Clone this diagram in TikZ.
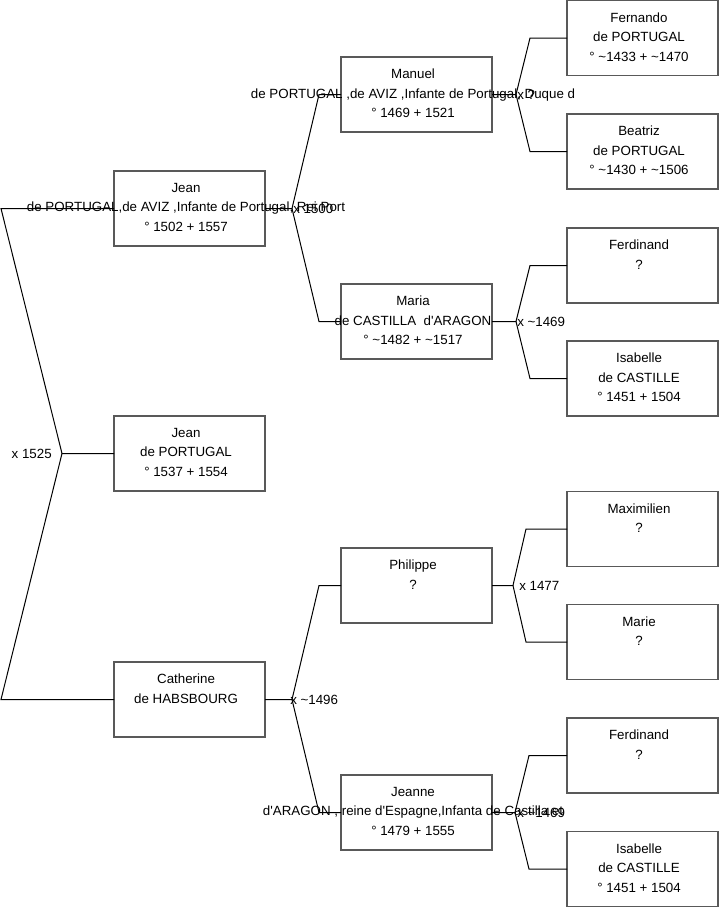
\documentclass[tikz,border=0pt]{standalone}
\usepackage{fontspec}
\setmainfont{Liberation Sans}[Ligatures=TeXOff]
\usepackage{tikz}

\begin{document}
\begin{tikzpicture}[
x=0.75pt, y=-0.75pt,
person/.style={draw=black!65, line width=1pt, minimum width=113.25pt, minimum height=56.25pt, inner sep=0pt, outer sep=0pt},
who/.style={align=center, inner sep=0pt, xshift=-2.6pt, yshift=0.8pt, font=\fontsize{10}{14.6}\selectfont},
union/.style={anchor=west, inner sep=0pt, font=\fontsize{10}{12}\selectfont},
link/.style={line width=0.75pt} ]

\useasboundingbox (0,0) rectangle (719,908);

% generation 1
\node[person] (jean) at (189.5,208.5) {};
\node[person] (jeanfils) at (189.5,453.5) {};
\node[person] (catherine) at (189.5,699.5) {};

% generation 2
\node[person] (manuel) at (416.5,94.5) {};
\node[person] (maria) at (416.5,321.5) {};
\node[person] (philippe) at (416.5,585.5) {};
\node[person] (jeanne) at (416.5,812.5) {};

% generation 3
\node[person] (fernando) at (642.5,38) {};
\node[person] (beatriz) at (642.5,151.5) {};
\node[person] (ferdinandA) at (642.5,265.5) {};
\node[person] (isabelleA) at (642.5,378.5) {};
\node[person] (maximilien) at (642.5,529) {};
\node[person] (marie) at (642.5,642) {};
\node[person] (ferdinandB) at (642.5,755.5) {};
\node[person] (isabelleB) at (642.5,869) {};

% forks
\coordinate (fa) at (62,453.5);
\coordinate (fb) at (292,208.5);
\coordinate (fc) at (516,94.5);
\coordinate (fd) at (516,321.5);
\coordinate (fe) at (292,699.5);
\coordinate (ff) at (513,585.5);
\coordinate (fg) at (515,812.5);

\draw[link] (jean.west) -- ++(-113,0) -- (fa) -- (jeanfils.west);
\draw[link] (catherine.west) -- ++(-113,0) -- (fa);

\draw[link] (manuel.west) -- ++(-22,0) -- (fb) -- (jean.east);
\draw[link] (maria.west) -- ++(-22,0) -- (fb);

\draw[link] (fernando.west) -- ++(-37,0) -- (fc) -- (manuel.east);
\draw[link] (beatriz.west) -- ++(-37,0) -- (fc);

\draw[link] (ferdinandA.west) -- ++(-37,0) -- (fd) -- (maria.east);
\draw[link] (isabelleA.west) -- ++(-37,0) -- (fd);

\draw[link] (philippe.west) -- ++(-22,0) -- (fe) -- (catherine.east);
\draw[link] (jeanne.west) -- ++(-22,0) -- (fe);

\draw[link] (maximilien.west) -- ++(-41,0) -- (ff) -- (philippe.east);
\draw[link] (marie.west) -- ++(-41,0) -- (ff);

\draw[link] (ferdinandB.west) -- ++(-38,0) -- (fg) -- (jeanne.east);
\draw[link] (isabelleB.west) -- ++(-38,0) -- (fg);

% names
\node[who] (jeant) at (jean) {Jean\\de PORTUGAL,de AVIZ ,Infante de Portugal, Rei Port\\° 1502 + 1557};
\node[who] (jeanfilst) at (jeanfils) {Jean\\de PORTUGAL\\° 1537 + 1554};
\node[who] (catherinet) at (catherine) {Catherine\\de HABSBOURG\\\mbox{}};
\node[who] (manuelt) at (manuel) {Manuel\\de PORTUGAL ,de AVIZ ,Infante de Portugal, Duque d\\° 1469 + 1521};
\node[who] (mariat) at (maria) {Maria\\de CASTILLA\ \ d'ARAGON\\° \textasciitilde1482 + \textasciitilde1517};
\node[who] (philippet) at (philippe) {Philippe\\?\\\mbox{}};
\node[who] (jeannet) at (jeanne) {Jeanne\\d'ARAGON , reine d'Espagne,Infanta de Castilla et\\° 1479 + 1555};
\node[who] (fernandot) at (fernando) {Fernando\\de PORTUGAL\\° \textasciitilde1433 + \textasciitilde1470};
\node[who] (beatrizt) at (beatriz) {Beatriz\\de PORTUGAL\\° \textasciitilde1430 + \textasciitilde1506};
\node[who] (ferdinandAt) at (ferdinandA) {Ferdinand\\?\\\mbox{}};
\node[who] (isabelleAt) at (isabelleA) {Isabelle\\de CASTILLE\\° 1451 + 1504};
\node[who] (maximilient) at (maximilien) {Maximilien\\?\\\mbox{}};
\node[who] (mariet) at (marie) {Marie\\?\\\mbox{}};
\node[who] (ferdinandBt) at (ferdinandB) {Ferdinand\\?\\\mbox{}};
\node[who] (isabelleBt) at (isabelleB) {Isabelle\\de CASTILLE\\° 1451 + 1504};

% marriages
\node[union, anchor=east] (ua) at (52,453.5) {x 1525};
\node[union] (ub) at (293,208.5) {x 1500};
\node[union] (uc) at (517,94.5) {x ?};
\node[union] (ud) at (517,321.5) {x \textasciitilde1469};
\node[union] (ue) at (290,699.5) {x \textasciitilde1496};
\node[union] (uf) at (519,585.5) {x 1477};
\node[union] (ug) at (517,812.5) {x \textasciitilde1469};

\end{tikzpicture}
\end{document}
